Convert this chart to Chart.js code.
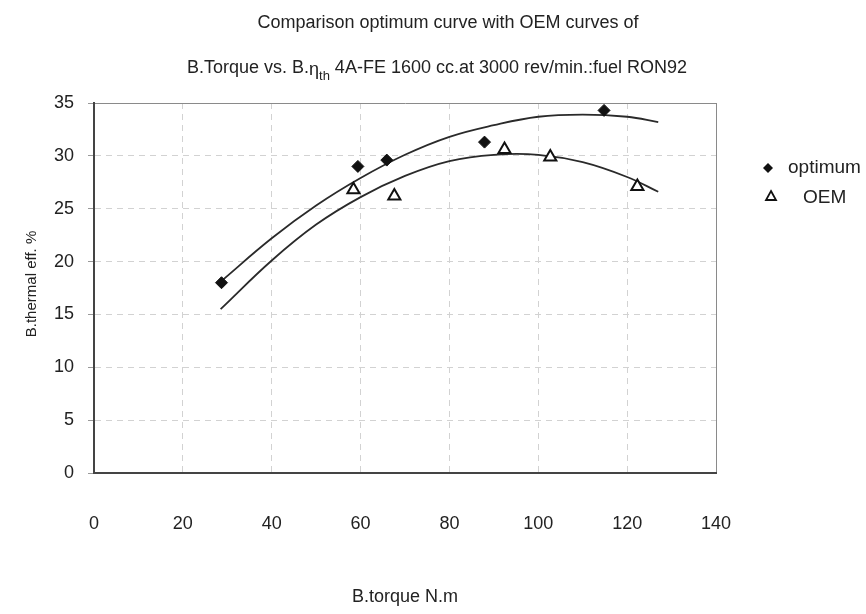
<!DOCTYPE html>
<html>
<head>
<meta charset="utf-8">
<script src="https://cdn.jsdelivr.net/npm/chart.js@4.4.1/dist/chart.umd.min.js"></script>
<style>
  html, body { margin: 0; padding: 0; background: #fff; }
  #wrap { width: 866px; height: 614px; }
</style>
</head>
<body>
<div id="wrap"><canvas id="c" width="866" height="614"></canvas></div>
<script>
// ===== DATOS =====
const optimumTorque = [28.7, 59.4, 65.9, 87.9, 114.8];
const optimumEff    = [18.0, 29.0, 29.6, 31.3, 34.3];
const oemTorque     = [58.4, 67.6, 92.4, 102.7, 122.3];
const oemEff        = [26.8, 26.2, 30.6, 29.9, 27.1];

// curvas de tendencia
const trendTorque   = [28.5, 40, 50, 60, 70, 80, 90, 100, 110, 120, 127];
const optimumTrend  = [18.1, 22.2, 25.3, 27.9, 30.1, 31.8, 32.9, 33.7, 33.9, 33.7, 33.2];
const oemTrend      = [15.5, 20.1, 23.5, 26.1, 28.1, 29.5, 30.1, 30.1, 29.4, 28.0, 26.6];

const xTicks = [0, 20, 40, 60, 80, 100, 120, 140];
const yTicks = [0, 5, 10, 15, 20, 25, 30, 35];

const FONT = 'Arial, "Liberation Sans", sans-serif';
const toPoints = (xs, ys) => xs.map((x, i) => ({ x: x, y: ys[i] }));

// Plugin para títulos, eje Y y leyenda
const annotationsPlugin = {
    id: 'customText',
    afterDraw: (chart) => {
        const ctx = chart.ctx;
        ctx.save();
        ctx.fillStyle = '#222';
        ctx.textBaseline = 'middle';

        // Título línea 1
        ctx.font = `18px ${FONT}`;
        ctx.textAlign = 'center';
        ctx.fillText('Comparison optimum curve with OEM curves of', 448, 23);

        // Título línea 2 con subíndice
        const parts = [
            { t: 'B.Torque vs. B.', size: 18, dy: 0 },
            { t: 'η', size: 18, dy: 2 },
            { t: 'th', size: 13, dy: 8 },
            { t: ' 4A-FE 1600 cc.at 3000 rev/min.:fuel RON92', size: 18, dy: 0 }
        ];
        let total = 0;
        parts.forEach(p => {
            ctx.font = `${p.size}px ${FONT}`;
            p.w = ctx.measureText(p.t).width;
            total += p.w;
        });
        let x = 437 - total / 2;
        ctx.textAlign = 'left';
        parts.forEach(p => {
            ctx.font = `${p.size}px ${FONT}`;
            ctx.fillText(p.t, x, 68 + p.dy);
            x += p.w;
        });

        // Título eje Y
        ctx.save();
        ctx.translate(32, 284);
        ctx.rotate(-Math.PI / 2);
        ctx.textAlign = 'center';
        ctx.font = `15px ${FONT}`;
        ctx.fillText('B.thermal eff. %', 0, 0);
        ctx.restore();

        // Leyenda
        ctx.font = `19px ${FONT}`;
        ctx.textAlign = 'left';
        ctx.fillStyle = '#111';
        ctx.beginPath();
        ctx.moveTo(768, 163); ctx.lineTo(773, 168); ctx.lineTo(768, 173); ctx.lineTo(763, 168);
        ctx.closePath();
        ctx.fill();
        ctx.fillStyle = '#222';
        ctx.fillText('optimum', 788, 168);

        ctx.strokeStyle = '#111';
        ctx.lineWidth = 1.8;
        ctx.beginPath();
        ctx.moveTo(771, 191); ctx.lineTo(776, 200); ctx.lineTo(766, 200);
        ctx.closePath();
        ctx.stroke();
        ctx.fillText('OEM', 803, 198);
        ctx.restore();
    }
};

const isFrame = (ctx) => ctx.tick && (ctx.tick.value === 35 || ctx.tick.value === 140);
const gridDash = (ctx) => isFrame(ctx) ? [] : [6, 5];
const gridColor = (ctx) => isFrame(ctx) ? '#8a8a8a' : '#d2d2d2';

new Chart(document.getElementById('c'), {
    type: 'scatter',
    data: {
        datasets: [
            {
                label: 'optimum',
                data: toPoints(optimumTorque, optimumEff),
                pointStyle: 'rectRot',
                pointRadius: 6,
                backgroundColor: '#111',
                borderColor: '#111',
                borderWidth: 1
            },
            {
                label: 'OEM',
                data: toPoints(oemTorque, oemEff),
                pointStyle: 'triangle',
                pointRadius: 7,
                backgroundColor: '#fff',
                borderColor: '#111',
                borderWidth: 2
            },
            {
                label: 'optimum trend',
                data: toPoints(trendTorque, optimumTrend),
                showLine: true,
                pointRadius: 0,
                borderColor: '#2a2a2a',
                borderWidth: 1.8,
                tension: 0.4
            },
            {
                label: 'OEM trend',
                data: toPoints(trendTorque, oemTrend),
                showLine: true,
                pointRadius: 0,
                borderColor: '#2a2a2a',
                borderWidth: 1.8,
                tension: 0.4
            }
        ]
    },
    options: {
        responsive: false,
        animation: false,
        layout: { padding: { top: 103, right: 150, left: 0, bottom: 0 } },
        plugins: {
            legend: { display: false },
            tooltip: { enabled: false }
        },
        scales: {
            x: {
                type: 'linear',
                min: 0,
                max: 140,
                afterFit: (scale) => { scale.height = 141; },
                afterBuildTicks: (scale) => { scale.ticks = xTicks.map(v => ({ value: v })); },
                ticks: { padding: 40, color: '#222', font: { size: 18, family: FONT } },
                grid: { color: gridColor, drawTicks: false, lineWidth: 1 },
                border: { color: '#444', width: 2, dash: gridDash },
                title: {
                    display: true,
                    text: 'B.torque N.m',
                    color: '#222',
                    font: { size: 18, family: FONT },
                    padding: { top: 0, bottom: 6 }
                }
            },
            y: {
                min: 0,
                max: 35,
                afterFit: (scale) => { scale.width = 94; },
                afterBuildTicks: (scale) => { scale.ticks = yTicks.map(v => ({ value: v })); },
                ticks: { padding: 14, color: '#222', font: { size: 18, family: FONT } },
                grid: { color: gridColor, tickLength: 6, tickColor: '#999', lineWidth: 1 },
                border: { color: '#444', width: 2, dash: gridDash }
            }
        }
    },
    plugins: [annotationsPlugin]
});
</script>
</body>
</html>
